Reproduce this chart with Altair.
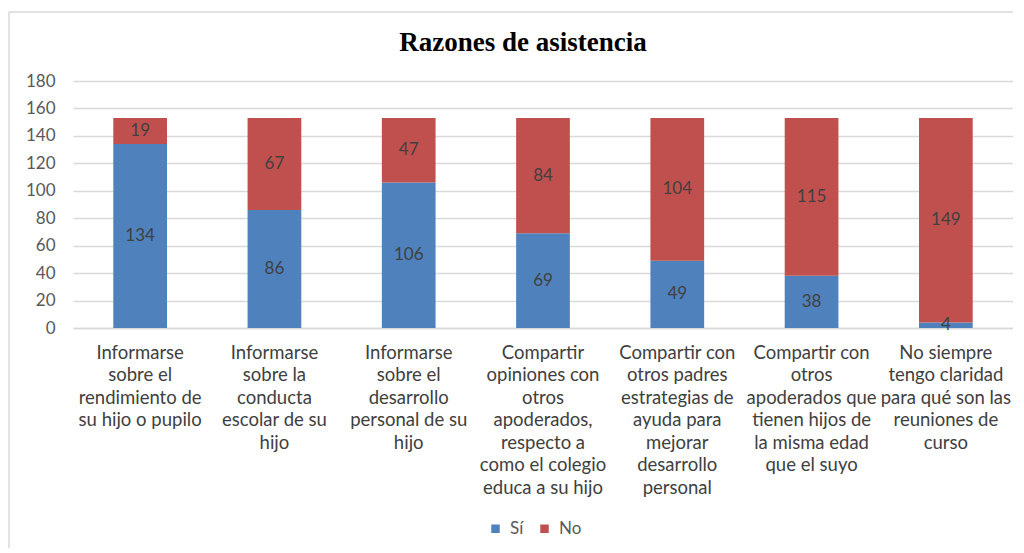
import altair as alt
import pandas as pd

categories = [
    "Informarse|sobre el|rendimiento de|su hijo o pupilo",
    "Informarse|sobre la|conducta|escolar de su|hijo",
    "Informarse|sobre el|desarrollo|personal de su|hijo",
    "Compartir|opiniones con|otros|apoderados,|respecto a|como el colegio|educa a su hijo",
    "Compartir con|otros padres|estrategias de|ayuda para|mejorar|desarrollo|personal",
    "Compartir con|otros|apoderados que|tienen hijos de|la misma edad|que el suyo",
    "No siempre|tengo claridad|para qué son las|reuniones de|curso",
]
si_values = [134, 86, 106, 69, 49, 38, 4]
no_values = [19, 67, 47, 84, 104, 115, 149]
series = ["Sí", "No"]
colors = ["#4F81BD", "#C0504D"]
y_ticks = [0, 20, 40, 60, 80, 100, 120, 140, 160, 180]

rows = []
for c, s, n in zip(categories, si_values, no_values):
    rows.append({"cat": c, "serie": "Sí", "ord": 0, "value": s})
    rows.append({"cat": c, "serie": "No", "ord": 1, "value": n})
df = pd.DataFrame(rows)

W, H = 940, 247

base = alt.Chart(df).transform_stack(
    stack="value", groupby=["cat"], as_=["y0", "y1"], sort=[alt.SortField("ord")]
).transform_calculate(mid="(datum.y0 + datum.y1) / 2")

x_scale = alt.Scale(paddingInner=0.6, paddingOuter=0.3)
y_scale = alt.Scale(domain=[0, 180], nice=False)
x_axis = alt.Axis(
    labelExpr="split(datum.label, '|')", labelAngle=0, labelFontSize=18.5,
    labelFont="Lato", labelColor="#404040", labelLineHeight=22.5,
    labelPadding=15, ticks=False, domainColor="#D9D9D9", domainWidth=1.5,
    labelLimit=300, labelBaseline="top", labelOverlap=False, title=None,
)
y_axis = alt.Axis(
    values=y_ticks, labelFontSize=17, labelFont="Lato", labelColor="#595959",
    gridColor="#D9D9D9", gridWidth=1.5, domain=False, ticks=False,
    labelPadding=18, labelOverlap=False, title=None,
)

bars = base.mark_bar().encode(
    x=alt.X("cat:N", sort=categories, title=None, scale=x_scale, axis=x_axis),
    y=alt.Y("y0:Q", title=None, scale=y_scale, axis=y_axis),
    y2="y1:Q",
    color=alt.Color(
        "serie:N", title=None,
        scale=alt.Scale(domain=series, range=colors),
        legend=alt.Legend(
            orient="none", legendX=414, legendY=439, direction="horizontal",
            symbolType="square", symbolSize=72, symbolStrokeWidth=0,
            labelFont="Lato", labelFontSize=17, labelColor="#595959",
            labelOffset=6, columnPadding=12,
        ),
    ),
)

labels = base.mark_text(font="Lato", fontSize=17, color="#404040").encode(
    x=alt.X("cat:N", sort=categories, title=None, scale=x_scale, axis=x_axis),
    y=alt.Y("mid:Q", title=None, scale=y_scale, axis=y_axis),
    text=alt.Text("value:Q"),
)

frame_src = alt.Chart(pd.DataFrame({"k": [0]}))
frame_top = frame_src.mark_rule(stroke="#D9D9D9", strokeWidth=1.5).encode(
    x=alt.value(-64), x2=alt.value(W + 60), y=alt.value(-69)
)
frame_left = frame_src.mark_rule(stroke="#D9D9D9", strokeWidth=1.5).encode(
    x=alt.value(-64), y=alt.value(-69), y2=alt.value(H + 260)
)

chart = alt.layer(frame_top, frame_left, bars, labels).properties(
    width=W, height=H,
    title=alt.TitleParams(
        "Razones de asistencia", font="Liberation Serif", fontSize=27,
        fontWeight="bold", color="#000000", anchor="middle", dx=-20, offset=-46,
    ),
    padding={"left": 65, "top": 73, "right": 0, "bottom": 220},
    autosize=alt.AutoSizeParams(type="none"),
).configure(background="white").configure_view(stroke=None)

chart.save("out.html", embed_options={"renderer": "svg", "actions": False})
